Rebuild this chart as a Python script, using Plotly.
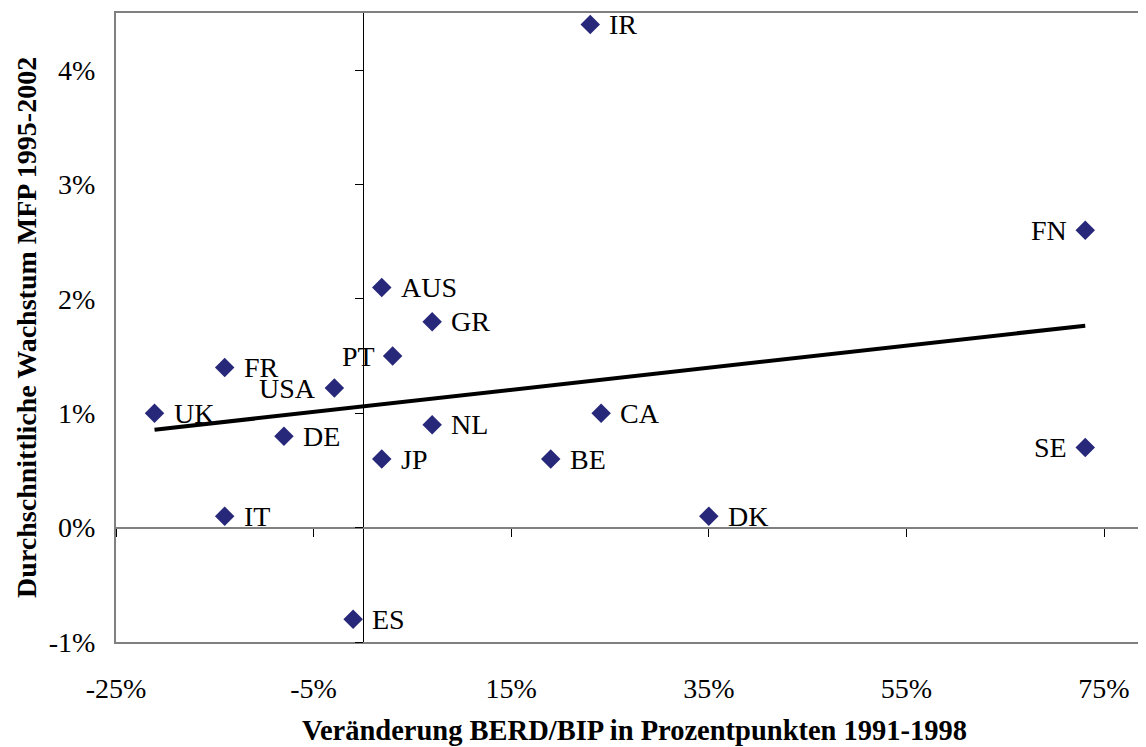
import numpy as np
import plotly.graph_objects as go

countries = ["IR", "FN", "AUS", "GR", "PT", "FR", "USA", "UK", "CA", "NL",
             "DE", "JP", "BE", "SE", "IT", "DK", "ES"]
berd_change = [23.0, 73.1, 1.9, 7.0, 3.0, -14.0, -2.9, -21.1, 24.1, 7.0,
               -8.0, 1.9, 19.0, 73.1, -14.0, 35.0, -1.0]
mfp_growth = [4.40, 2.60, 2.10, 1.80, 1.50, 1.40, 1.22, 1.00, 1.00, 0.90,
              0.80, 0.60, 0.60, 0.70, 0.10, 0.10, -0.80]
label_side = ["right", "left", "right", "right", "left", "right", "left", "right",
              "right", "right", "right", "right", "right", "left", "right", "right", "right"]

x_ticks = [-25, -5, 15, 35, 55, 75]
y_ticks = [-1, 0, 1, 2, 3, 4]
x_range = [-25, 79.25]
y_range = [-1, 4.5]

x_title = "Veränderung BERD/BIP in Prozentpunkten 1991-1998"
y_title = "Durchschnittliche Wachstum MFP 1995-2002"

SERIF = "Liberation Serif, Times New Roman, serif"
NAVY = "#28287A"
GREY = "#808080"

# linear trend (OLS) from data
slope, intercept = np.polyfit(berd_change, mfp_growth, 1)
tx = np.array([min(berd_change), max(berd_change)])
ty = slope * tx + intercept

fig = go.Figure()

fig.add_trace(go.Scatter(
    x=tx, y=ty, mode="lines",
    line=dict(color="black", width=4),
    hoverinfo="skip", showlegend=False,
))

fig.add_trace(go.Scatter(
    x=berd_change, y=mfp_growth, mode="markers",
    marker=dict(symbol="diamond", size=15, color=NAVY, line=dict(width=0)),
    showlegend=False,
))

# invisible trace for the tick axes that cross at zero
fig.add_trace(go.Scatter(
    x=berd_change, y=mfp_growth, xaxis="x2", yaxis="y2", mode="markers",
    marker=dict(opacity=0), hoverinfo="skip", showlegend=False,
))

# point labels
for c, xv, yv, side in zip(countries, berd_change, mfp_growth, label_side):
    fig.add_annotation(
        x=xv, y=yv, text=c, showarrow=False,
        xanchor="left" if side == "right" else "right", yanchor="middle",
        xshift=17 if side == "right" else -16,
        font=dict(family=SERIF, size=28, color="black"),
    )

# axis titles
fig.add_annotation(
    xref="paper", yref="paper", x=0.503, y=-0.14, text=f"<b>{x_title}</b>",
    showarrow=False, xanchor="center", yanchor="middle",
    font=dict(family=SERIF, size=28.5, color="black"),
)
fig.add_annotation(
    xref="paper", yref="paper", x=-0.087, y=0.5, text=f"<b>{y_title}</b>",
    showarrow=False, xanchor="center", yanchor="middle", textangle=-90,
    font=dict(family=SERIF, size=28, color="black"),
)

x_zero_pos = (0 - y_range[0]) / (y_range[1] - y_range[0])
y_zero_pos = (0 - x_range[0]) / (x_range[1] - x_range[0])

fig.update_layout(
    width=1138, height=739,
    margin=dict(l=108, r=0, t=5, b=105),
    paper_bgcolor="white", plot_bgcolor="white",
    font=dict(family=SERIF, size=28, color="black"),
    xaxis=dict(
        range=x_range, tickvals=x_ticks,
        ticktext=[f"{v}%" for v in x_ticks],
        showgrid=False, ticks="", ticklabelstandoff=20,
        showline=True, mirror=True, linecolor=GREY, linewidth=2,
        zeroline=True, zerolinecolor="black", zerolinewidth=1,
        tickfont=dict(family=SERIF, size=28),
    ),
    yaxis=dict(
        range=y_range, tickvals=y_ticks,
        ticktext=[f"{v}%" for v in y_ticks],
        showgrid=False, ticks="", ticklabelstandoff=13,
        showline=True, mirror=False, linecolor=GREY, linewidth=2,
        zeroline=True, zerolinecolor=GREY, zerolinewidth=2,
        tickfont=dict(family=SERIF, size=28),
    ),
    xaxis2=dict(
        matches="x", overlaying="x", anchor="free", position=x_zero_pos,
        side="bottom", tickvals=x_ticks, ticks="outside", ticklen=8,
        tickcolor="black", tickwidth=1, showticklabels=False,
        showline=False, showgrid=False, zeroline=False,
    ),
    yaxis2=dict(
        matches="y", overlaying="y", anchor="free", position=y_zero_pos,
        side="left", tickvals=y_ticks, ticks="outside", ticklen=8,
        tickcolor="black", tickwidth=1, showticklabels=False,
        showline=False, showgrid=False, zeroline=False,
    ),
)

fig.write_html("out.html")
